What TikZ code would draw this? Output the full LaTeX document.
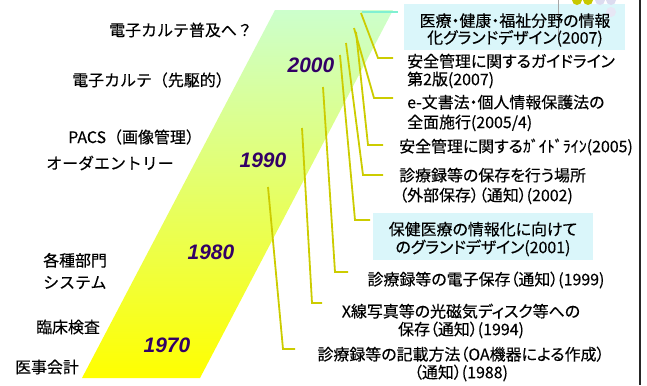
\documentclass[tikz,border=0pt]{standalone}
\usepackage{fontspec}
\setmainfont{Liberation Sans}
\newfontfamily\jp[RawFeature=+palt, FakeBold=0.3]{Noto Sans CJK JP}
\newfontfamily\jpfull[FakeBold=0.3]{Noto Sans CJK JP}
\definecolor{yearcol}{RGB}{51,0,102}
\definecolor{conncol}{RGB}{204,204,0}
\definecolor{boxcol}{RGB}{218,246,250}
\definecolor{greentop}{RGB}{204,255,204}
\definecolor{cyanln}{RGB}{128,240,210}
\definecolor{dotolive}{RGB}{200,200,0}
\definecolor{dotlav}{RGB}{220,220,240}
\tikzset{
  jl/.style={font=\jpfull\fontsize{16}{22}\selectfont, inner sep=0pt},
  jr/.style={font=\jp\fontsize{16}{#1}\selectfont, inner sep=0pt},
  jr/.default=18,
  yr/.style={font=\fontsize{21}{24}\selectfont\bfseries\itshape, text=yearcol, inner sep=0pt},
  conn/.style={draw=conncol, line width=1.8bp},
  hbox/.style={fill=boxcol, inner sep=0pt}
}
\begin{document}
\begin{tikzpicture}[x=1bp,y=-1bp]
\useasboundingbox (0,0) rectangle (647,385);
% timeline band
\shade[top color=greentop, bottom color=yellow] (82,378) -- (200,378) -- (393,10) -- (275,10) -- cycle;
% years
\node[yr] (y2000) at (311,65) {2000};
\node[yr] (y1990) at (263,160) {1990};
\node[yr] (y1980) at (211,252) {1980};
\node[yr] (y1970) at (167,345) {1970};
% left labels
\node[jl] (l1) at (181,30) {電子カルテ普及へ？};
\node[jl] (l2) at (152,80) {電子カルテ（先駆的）};
\node[jl] (l3) at (135,137) {PACS（画像管理）};
\node[jl] (l4) at (110,163) {オーダエントリー};
\node[jl, anchor=west, align=left] (l5) at (43,271) {各種部門\\システム};
\node[jl] (l6) at (68,327) {臨床検査};
\node[jl] (l7) at (47,367) {医事会計};
% boxes
\node[hbox, minimum width=221bp, minimum height=46bp] (bx1) at (514.5,27) {};
\node[hbox, minimum width=220bp, minimum height=47bp] (bx2) at (483,236.5) {};
% decorations
\draw[gray!70, line width=0.6bp] (558,0) -- (558,37);
\fill[dotolive] (577,0) circle (5);
\fill[dotolive] (588,0) circle (5);
\fill[dotlav] (600,0) circle (5);
\fill[dotlav] (611,0) circle (5);
\fill[dotlav!70] (611,12) circle (5);
\draw[black!85, line width=2bp] (640,0) -- (640,385);
% right labels
\node[jr=17, align=center] (r1) at (515,30) {医療・健康・福祉分野の情報\\化グランドデザイン(2007)};
\node[jr=18, anchor=west, align=left] (r2) at (407,71) {安全管理に関するガイドライン\\第2版(2007)};
\node[jr=20, anchor=west, align=left] (r3) at (407,113) {e-文書法・個人情報保護法の\\全面施行(2005/4)};
\node[jr, anchor=west] (r4) at (399,147) {安全管理に関する{\jpfull ｶﾞｲﾄﾞﾗｲﾝ}(2005)};
\node[jr=20, anchor=west, align=left] (r5) at (399,186) {診療録等の保存を行う場所\\（外部保存）（通知）(2002)};
\node[jr=18, align=center] (r6) at (483,239) {保健医療の情報化に向けて\\のグランドデザイン(2001)};
\node[jr] (r7) at (486,280) {診療録等の電子保存（通知）(1999)};
\node[jr=18, align=center] (r8) at (461,321) {X線写真等の光磁気ディスク等への\\保存（通知）(1994)};
\node[jr=18, align=center] (r9) at (461,364) {診療録等の記載方法（OA機器による作成）\\（通知）(1988)};
% connectors
\coordinate (s0) at (362,12); \coordinate (e0) at (398,12);
\draw[draw=cyanln, line width=1.8bp] (s0) -- (e0);
\coordinate (s1) at (361,13); \coordinate (b1) at (378,58); \coordinate (e1) at (393,58);
\coordinate (s2) at (354,28); \coordinate (b2) at (374,98); \coordinate (e2) at (393,98);
\coordinate (s3) at (356,32); \coordinate (b3) at (368,145); \coordinate (e3) at (383,145);
\coordinate (s4) at (346,43); \coordinate (b4) at (363,175); \coordinate (e4) at (383,175);
\coordinate (s5) at (340,55); \coordinate (b5) at (355,220); \coordinate (e5) at (370,220);
\coordinate (s6) at (323,87); \coordinate (b6) at (335,272); \coordinate (e6) at (348,272);
\coordinate (s7) at (302,128); \coordinate (b7) at (312,303); \coordinate (e7) at (322,303);
\coordinate (s8) at (268,187); \coordinate (b8) at (283,349); \coordinate (e8) at (295,349);
\foreach \i in {1,...,8} {\draw[conn] (s\i) -- (b\i) -- (e\i);}
\end{tikzpicture}
\end{document}
